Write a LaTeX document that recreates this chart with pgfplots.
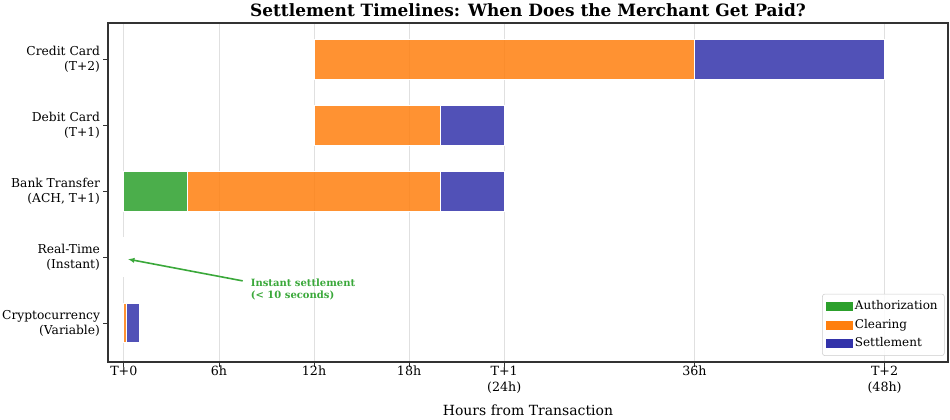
\documentclass[border=0pt]{standalone}
\usepackage{pgfplots}
\pgfplotsset{compat=1.18}
\usetikzlibrary{arrows.meta}
\usepackage{fontspec}
\setmainfont{DejaVu Serif}

\definecolor{auth}{HTML}{2CA02C}
\definecolor{clear}{HTML}{FF7F0E}
\definecolor{settle}{HTML}{3333AA}
\definecolor{annot}{HTML}{3AA83A}

\begin{document}
\begin{tikzpicture}
\begin{axis}[
  at={(0,0)}, anchor=south west,
  scale only axis, width=630pt, height=254.25pt,
  xbar stacked, bar width=0.6,
  xmin=-1, xmax=52, ymin=-0.55, ymax=4.59, y dir=reverse,
  xtick={0,6,12,18,24,36,48},
  xticklabels={T+0,6h,12h,18h,{T+1\\(24h)},36h,{T+2\\(48h)}},
  xticklabel style={align=center, font=\fontsize{9.5}{12}\selectfont, yshift=4pt},
  ytick={0,1,2,3,4},
  yticklabels={{Credit Card\\(T+2)},{Debit Card\\(T+1)},{Bank Transfer\\(ACH, T+1)},{Real-Time\\(Instant)},{Cryptocurrency\\(Variable)}},
  yticklabel style={align=right, font=\fontsize{9.2}{11.25}\selectfont, xshift=1pt},
  tick align=outside, tick pos=left,
  major tick length=3.5pt,
  tick style={black!80, line width=0.6pt},
  xmajorgrids, grid style={black!12, line width=0.6pt},
  axis line style={black!80, line width=0.8pt},
  xlabel={Hours from Transaction},
  xlabel style={font=\fontsize{10.5}{12}\selectfont, yshift=-1.5pt},
  title={Settlement Timelines: When Does the Merchant Get Paid?},
  title style={font=\bfseries\fontsize{12.7}{14}\selectfont, yshift=-5pt},
  clip=false,
  legend cell align=left,
  legend style={at={(0.996,0.018)}, anchor=south east, font=\fontsize{9}{11}\selectfont,
    draw=black!20, rounded corners=2pt, fill=white, fill opacity=0.85, text opacity=1,
    row sep=1.6pt, inner xsep=3pt, inner ysep=3pt, /tikz/every even column/.append style={column sep=2pt}},
]
\addlegendimage{legend image code/.code={\fill[auth, sharp corners, fill opacity=1] (0pt,-3pt) rectangle (19pt,3pt);}}
\addlegendentry{Authorization}
\addlegendimage{legend image code/.code={\fill[clear, sharp corners, fill opacity=1] (0pt,-3pt) rectangle (19pt,3pt);}}
\addlegendentry{Clearing}
\addlegendimage{legend image code/.code={\fill[settle, sharp corners, fill opacity=1] (0pt,-3pt) rectangle (19pt,3pt);}}
\addlegendentry{Settlement}

\addplot[draw=none, fill=none, forget plot] coordinates {(12,0) (12,1) (0,2) (0,3) (0,4)};
\addplot[fill=auth, fill opacity=0.85, draw=white, line width=0.7pt, forget plot] coordinates {(0,0) (0,1) (4,2) (0,3) (0,4)};
\addplot[fill=clear, fill opacity=0.85, draw=white, line width=0.7pt, forget plot] coordinates {(24,0) (8,1) (16,2) (0,3) (0.17,4)};
\addplot[fill=settle, fill opacity=0.85, draw=white, line width=0.7pt, forget plot] coordinates {(12,0) (4,1) (4,2) (0.003,3) (0.83,4)};

\draw[-{Latex[length=5pt,width=4pt]}, annot, line width=1.2pt] (axis cs:7.5,3.36) -- (axis cs:0.25,3.03);
\node[anchor=north west, align=left, inner sep=0pt, text=annot, font=\bfseries\fontsize{7.5}{9}\selectfont] at (axis cs:8.0,3.33) {Instant settlement\\(< 10 seconds)};
\end{axis}
\pgfresetboundingbox
\path[use as bounding box] (-81pt,-42.75pt) rectangle (631.5pt,271.5pt);
\end{tikzpicture}
\end{document}
